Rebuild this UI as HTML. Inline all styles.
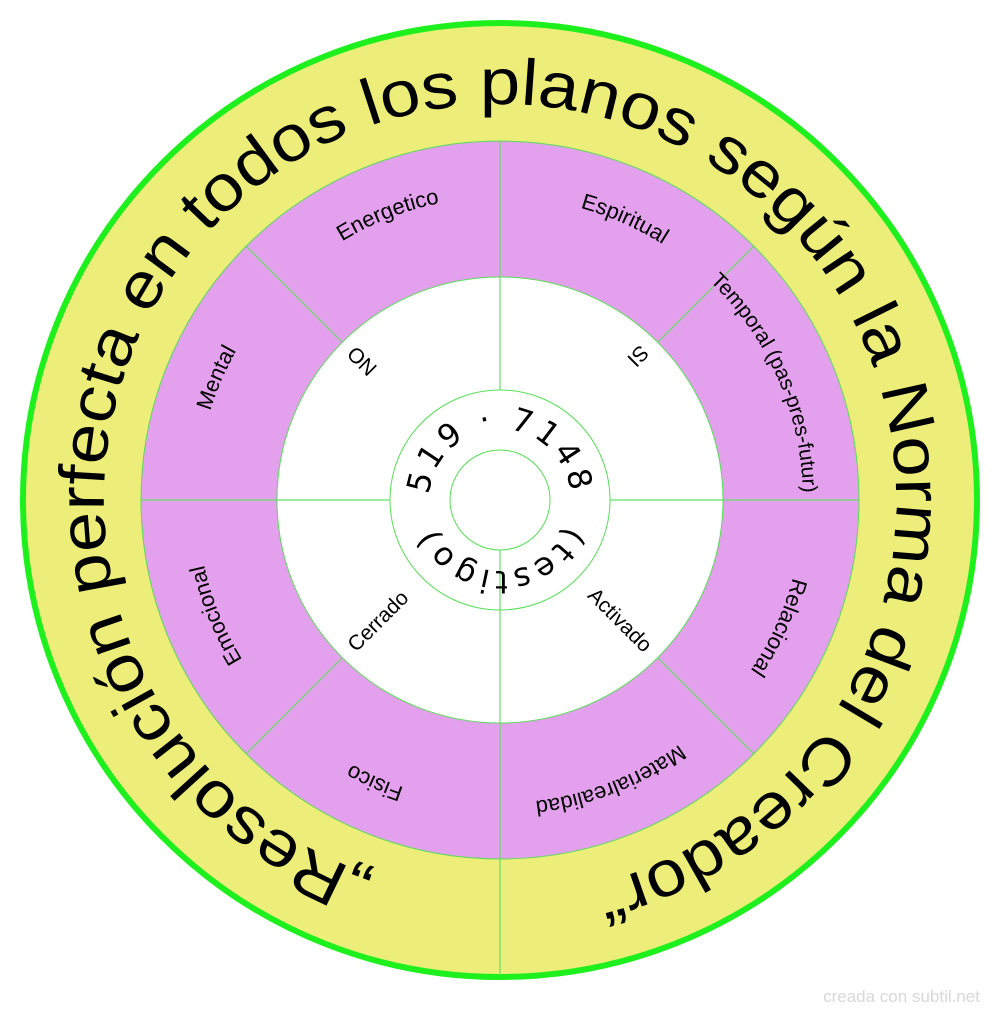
<!DOCTYPE html>
<html><head><meta charset="utf-8"><style>
html,body{margin:0;padding:0;background:#fff}
svg{display:block}
text{font-family:"Liberation Sans",sans-serif;fill:#000}
.m{font-family:"DejaVu Sans",sans-serif}
</style></head><body>
<svg width="1000" height="1016" viewBox="0 0 1000 1016" xmlns="http://www.w3.org/2000/svg">
<defs>
<path id="pO" d="M500,896 A396,396 0 1 1 500,104 A396,396 0 1 1 500,896"/>
<path id="pB" d="M500,803 A303,303 0 1 1 500,197 A303,303 0 1 1 500,803"/>
<path id="pT" d="M500,197 A303,303 0 1 1 500,803 A303,303 0 1 1 500,197"/>
<path id="cB" d="M500,571 A71,71 0 1 1 500,429 A71,71 0 1 1 500,571"/>
<path id="cT" d="M500,429 A71,71 0 1 1 500,571 A71,71 0 1 1 500,429"/>
</defs>
<circle cx="500" cy="500" r="477" fill="#eded79" stroke="#1ef01e" stroke-width="6"/>
<circle cx="500" cy="500" r="359" fill="#e3a0ec" stroke="#55e055" stroke-width="1"/>
<circle cx="500" cy="500" r="223" fill="#fff" stroke="#55e055" stroke-width="1"/>
<circle cx="500" cy="500" r="110" fill="#fff" stroke="#55e055" stroke-width="1"/>
<circle cx="500" cy="500" r="50" fill="#fff" stroke="#55e055" stroke-width="1"/>
<g stroke="#66e066" stroke-width="1.2">
<line x1="500" y1="141" x2="500" y2="390"/>
<line x1="500" y1="550" x2="500" y2="975"/>
<line x1="141" y1="500" x2="390" y2="500"/>
<line x1="610" y1="500" x2="859" y2="500"/>
<line x1="246" y1="246" x2="342" y2="342"/>
<line x1="754" y1="246" x2="658" y2="342"/>
<line x1="246" y1="754" x2="342" y2="658"/>
<line x1="754" y1="754" x2="658" y2="658"/>
</g>
<text font-size="65"><textPath href="#pO" startOffset="128" textLength="2264" lengthAdjust="spacingAndGlyphs">„Resolución perfecta en todos los planos según la Norma del Creador“</textPath></text>
<g font-size="22" text-anchor="middle">
<text><textPath href="#pB" startOffset="599">Mental</textPath></text>
<text><textPath href="#pB" startOffset="838">Energetico</textPath></text>
<text><textPath href="#pB" startOffset="1078">Espiritual</textPath></text>
<text text-anchor="start" font-size="21"><textPath href="#pB" startOffset="1183">Temporal (pas-pres-futur)</textPath></text>
<text><textPath href="#pB" startOffset="1557">Relacional</textPath></text>
<text><textPath href="#pT" startOffset="838">Materialrealidad</textPath></text>
<text><textPath href="#pT" startOffset="1078">Fisico</textPath></text>
<text><textPath href="#pB" startOffset="359">Emocional</textPath></text>
</g>
<g font-size="21" text-anchor="middle">
<text transform="translate(362,361) rotate(225)" dy="7">NO</text>
<text transform="translate(638,356) rotate(135)" dy="7">SI</text>
<text transform="translate(378,621) rotate(-45)" dy="7">Cerrado</text>
<text transform="translate(620,620) rotate(45)" dy="7">Activado</text>
</g>
<text class="m" font-size="32" text-anchor="middle" letter-spacing="4"><textPath href="#cB" startOffset="223">519 · 7148</textPath></text>
<text class="m" font-size="32" text-anchor="middle" letter-spacing="4"><textPath href="#cT" startOffset="223">(testigo)</textPath></text>
<text x="980" y="1002" font-size="17" style="fill:#d8d8d8" text-anchor="end">creada con subtil.net</text>
</svg>
</body></html>
